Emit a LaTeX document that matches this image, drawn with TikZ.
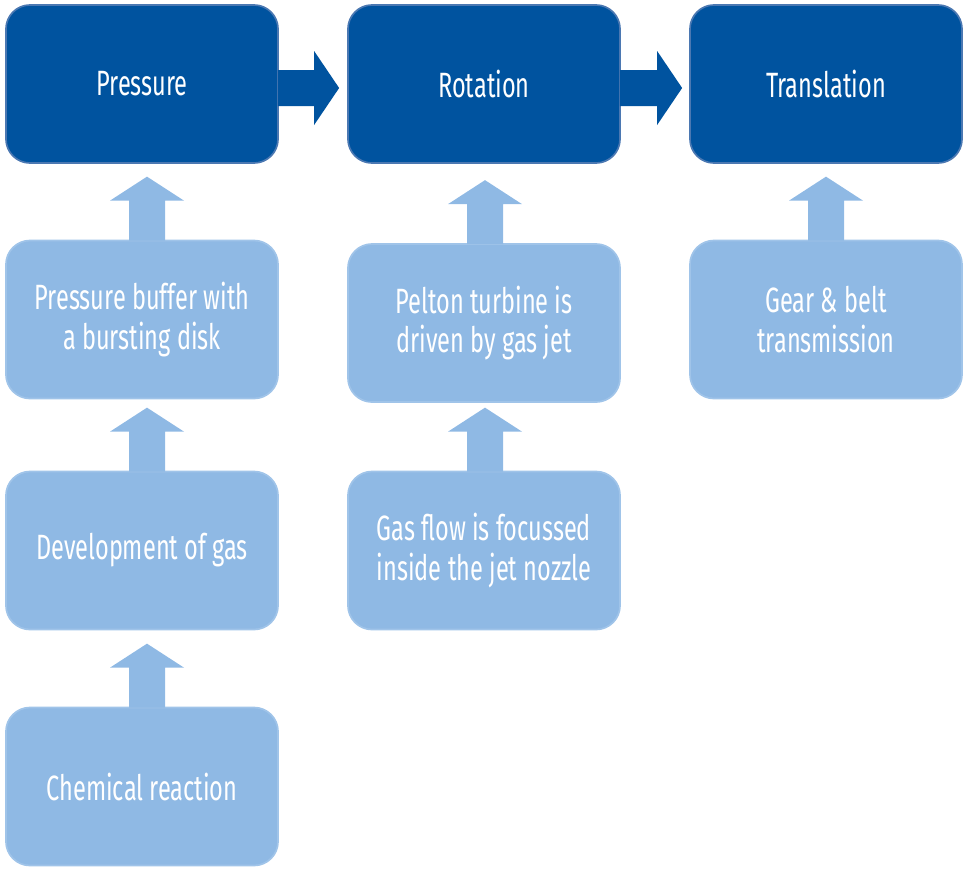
\documentclass[tikz,border=0pt]{standalone}
\usepackage{fontspec}
\setmainfont{Fira Sans}[FakeStretch=0.67]
\usepackage{tikz}
\usetikzlibrary{positioning}
\usetikzlibrary{calc}

\definecolor{darkblue}{RGB}{0,83,159}
\definecolor{darkedge}{RGB}{75,120,178}
\definecolor{lightblue}{RGB}{143,185,228}
\definecolor{lightedge}{RGB}{160,196,233}

\tikzset{
  mainbox/.style={draw=darkedge, line width=1.2pt, fill=darkblue, rounded corners=0.6cm,
    minimum width=6.8cm, minimum height=3.95cm, text=white, align=center,
    font=\fontsize{25}{28.4}\selectfont},
  subbox/.style={mainbox, draw=lightedge, fill=lightblue},
}

% up arrow sitting on top of a box: node, x shift
\newcommand{\uparrowon}[2]{%
  \fill[lightblue] ($(#1.north)+(#2-18,1)$) -- ++(0,-40) -- ++(-19,0) -- ++(37,-24)
    -- ++(37,24) -- ++(-19,0) -- ++(0,40) -- cycle;}

\begin{document}
\begin{tikzpicture}[x=0.025cm, y=-0.025cm]
\useasboundingbox (0,0) rectangle (965,868);

% top row
\node [mainbox] (pressure) at (142,84) {Pressure};
\node [mainbox] (rotation) at (484,84) {Rotation};
\node [mainbox] (translation) at (826,84) {Translation};

% pressure column
\node [subbox] (buffer) at (142,319.5) {Pressure buffer with\\a bursting disk};
\node [subbox] (gas) at (142,550.5) {Development of gas};
\node [subbox] (reaction) at (142,786.5) {Chemical reaction};

% rotation column
\node [subbox] (pelton) at (484,323) {Pelton turbine is\\driven by gas jet};
\node [subbox] (nozzle) at (484,550.5) {Gas flow is focussed\\inside the jet nozzle};

% translation column
\node [subbox] (gear) at (826,319.5) {Gear \& belt\\transmission};

% horizontal block arrows
\coordinate (tip1) at ($(rotation.west)+(-8,4)$);
\fill [darkblue] ($(pressure.east)+(-1,-14)$) -- ($(tip1)+(-25,-18)$) -- ($(tip1)+(-25,-37)$) -- (tip1)
  -- ($(tip1)+(-25,37)$) -- ($(tip1)+(-25,18)$) -- ($(pressure.east)+(-1,22)$) -- cycle;
\coordinate (tip2) at ($(translation.west)+(-7,4)$);
\fill [darkblue] ($(rotation.east)+(-1,-14)$) -- ($(tip2)+(-25,-18)$) -- ($(tip2)+(-25,-37)$) -- (tip2)
  -- ($(tip2)+(-25,37)$) -- ($(tip2)+(-25,18)$) -- ($(rotation.east)+(-1,22)$) -- cycle;

% vertical block arrows
\uparrowon{buffer}{5}
\uparrowon{gas}{5}
\uparrowon{reaction}{5}
\uparrowon{pelton}{1}
\uparrowon{nozzle}{1}
\uparrowon{gear}{0}

\end{tikzpicture}
\end{document}
